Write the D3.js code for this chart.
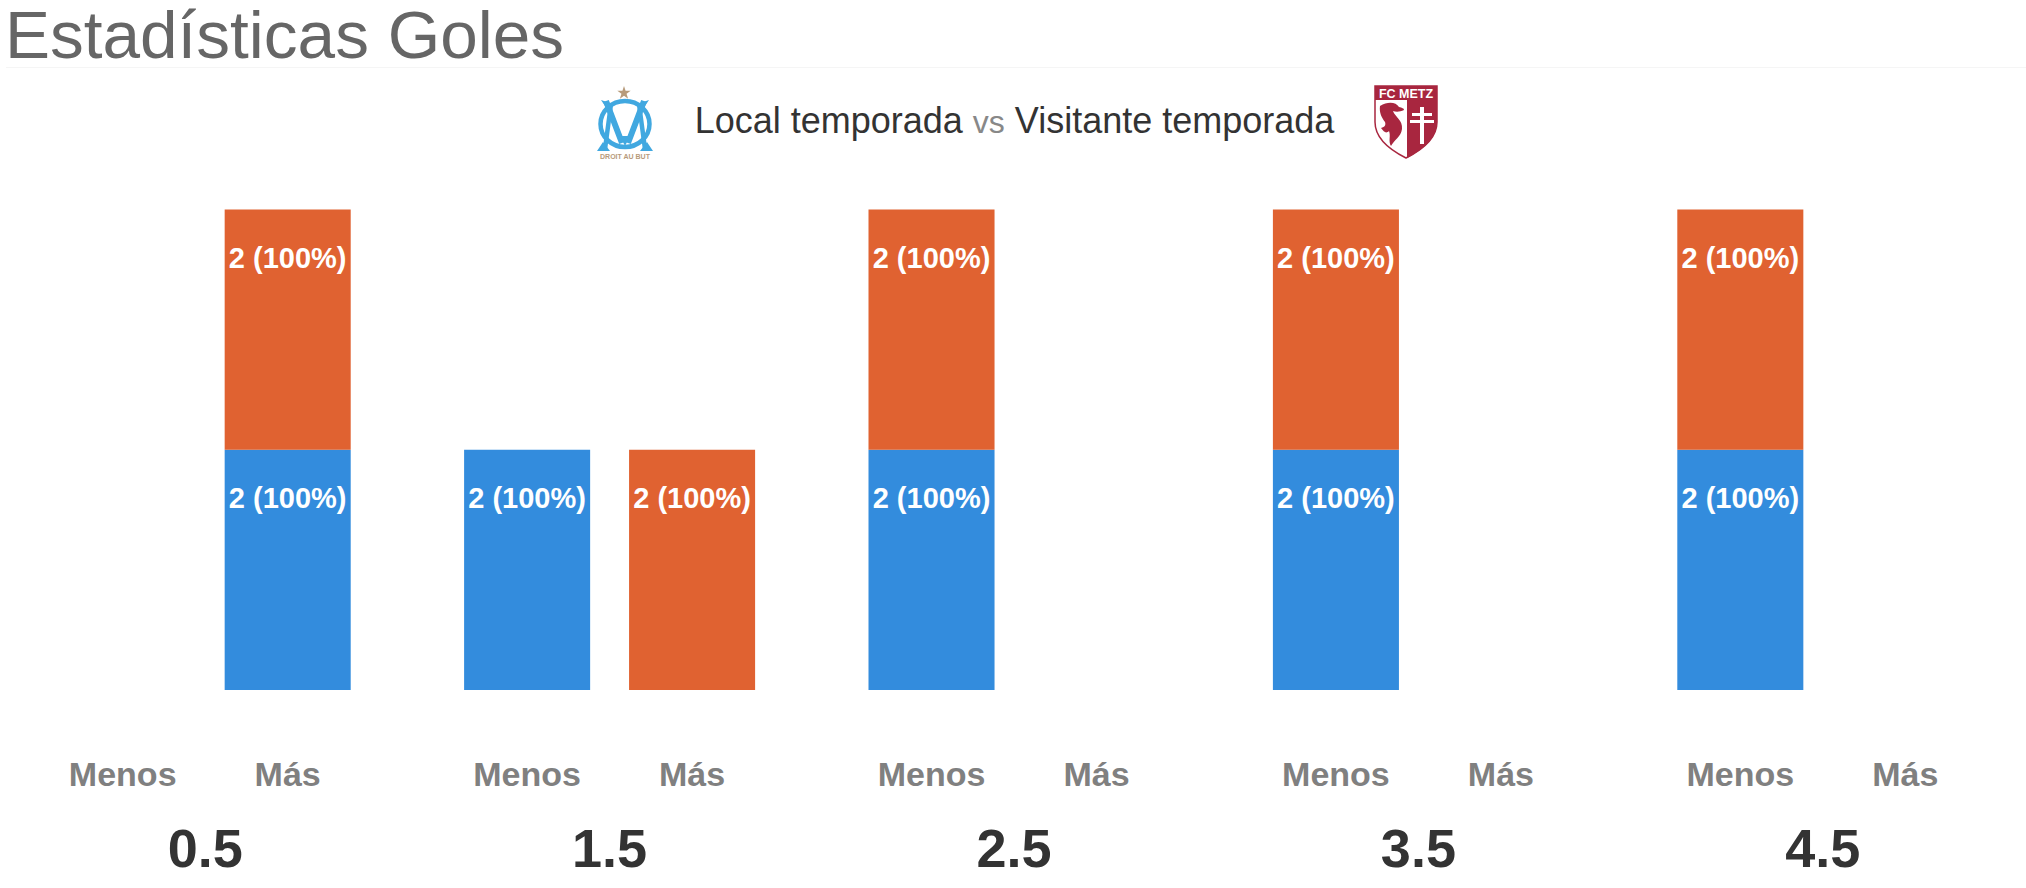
<!DOCTYPE html>
<html>
<head>
<meta charset="utf-8">
<script src="https://cdn.jsdelivr.net/npm/d3@7"></script>
<style>
  html, body { margin: 0; background: #fff; overflow: hidden; }
  text { font-family: "Liberation Sans", Arial, sans-serif; }
</style>
</head>
<body>
<div id="chart"></div>
<script>
const svgWidth = 2026;
const svgHeight = 888;

// Data
const goalLines = ["0.5", "1.5", "2.5", "3.5", "4.5"];
const sides = ["Menos", "Más"];
const localMenos = [0, 2, 2, 2, 2];
const localMas = [2, 0, 0, 0, 0];
const visitanteMenos = [0, 0, 2, 2, 2];
const visitanteMas = [2, 2, 0, 0, 0];
const percentLabel = "100%";
const seriesNames = ["local", "visitante"];

const colors = { local: "#338cdd", visitante: "#e06231" };

const svg = d3.select("#chart")
  .append("svg")
  .attr("width", svgWidth)
  .attr("height", svgHeight);

// Scales
const x0 = d3.scaleBand().domain(goalLines).range([3, 2025]);
const x1 = d3.scaleBand().domain(sides).range([-145.5, 145.5]).paddingInner(0.236);
const y = d3.scaleLinear().domain([0, 4]).range([690, 209.5]);

// Title
svg.append("text")
  .attr("x", 5).attr("y", 58)
  .attr("font-size", 67.5)
  .attr("fill", "#666")
  .text("Estadísticas Goles");

svg.append("line")
  .attr("x1", 6).attr("x2", svgWidth)
  .attr("y1", 67.5).attr("y2", 67.5)
  .attr("stroke", "#f5f5f5");

// Subtitle
const subtitle = svg.append("text")
  .attr("x", 1014.5).attr("y", 133)
  .attr("text-anchor", "middle")
  .attr("font-size", 36)
  .attr("fill", "#333");
subtitle.append("tspan").text("Local temporada ");
subtitle.append("tspan").attr("fill", "#888").attr("font-size", 32).text("vs");
subtitle.append("tspan").text(" Visitante temporada");

// Stacked bars
const rows = goalLines.flatMap((line, i) => [
  { line, side: "Menos", local: localMenos[i], visitante: visitanteMenos[i] },
  { line, side: "Más", local: localMas[i], visitante: visitanteMas[i] }
]);
const stacked = d3.stack().keys(seriesNames)(rows);

const layers = svg.selectAll(".layer")
  .data(stacked)
  .enter()
  .append("g")
  .attr("class", "layer")
  .attr("fill", d => colors[d.key]);

const cells = layers.selectAll("g")
  .data(d => d.filter(s => s[1] > s[0]))
  .enter()
  .append("g")
  .attr("transform", d => `translate(${x0(d.data.line) + x0.bandwidth() / 2 + x1(d.data.side)},0)`);

cells.append("rect")
  .attr("y", d => y(d[1]))
  .attr("width", x1.bandwidth())
  .attr("height", d => y(d[0]) - y(d[1]));

cells.append("text")
  .attr("x", x1.bandwidth() / 2)
  .attr("y", d => y(d[1]) + 58)
  .attr("text-anchor", "middle")
  .attr("font-size", 29)
  .attr("font-weight", "bold")
  .attr("fill", "#fff")
  .text(d => `${d[1] - d[0]} (${percentLabel})`);

// Menos / Más axis for each group
goalLines.forEach(line => {
  const axis = svg.append("g")
    .attr("transform", `translate(${x0(line) + x0.bandwidth() / 2},736)`)
    .call(d3.axisBottom(x1).tickSize(0).tickPadding(26));
  axis.select(".domain").remove();
  axis.selectAll("text")
    .attr("font-size", 34)
    .attr("font-weight", "bold")
    .attr("font-family", null)
    .attr("fill", "#808080");
});

// Goal line axis
const lineAxis = svg.append("g")
  .attr("transform", "translate(0,809)")
  .call(d3.axisBottom(x0).tickSize(0).tickPadding(20));
lineAxis.select(".domain").remove();
lineAxis.selectAll("text")
  .attr("font-size", 54)
  .attr("font-weight", "bold")
  .attr("font-family", null)
  .attr("fill", "#333");

// Home crest
const home = svg.append("g").attr("transform", "translate(625,0)");
const omBlue = "#41a8e0";
home.append("path")
  .attr("d", d3.symbol(d3.symbolStar, 55)())
  .attr("transform", "translate(-1,93)")
  .attr("fill", "#b79b7b");
home.append("ellipse")
  .attr("cx", 0).attr("cy", 124).attr("rx", 24.5).attr("ry", 23)
  .attr("fill", "none").attr("stroke", omBlue).attr("stroke-width", 4.5);
home.append("path")
  .attr("d", "M-19,101L-3,143M19,101L3,143")
  .attr("fill", "none").attr("stroke", omBlue).attr("stroke-width", 6);
home.append("path")
  .attr("d", "M-14,104L-20,149M14,104L20,149")
  .attr("fill", "none").attr("stroke", omBlue).attr("stroke-width", 4.5);
home.append("path")
  .attr("d", "M-28,151L-22,142L-15,151ZM28,151L22,142L15,151ZM-24,100L-15,103L-18,109ZM24,100L15,103L18,109ZM0,146L-5,136H5Z")
  .attr("fill", omBlue);
home.append("text")
  .attr("y", 158.5).attr("text-anchor", "middle")
  .attr("font-size", 7).attr("font-weight", "bold")
  .attr("fill", "#b79b7b")
  .text("DROIT AU BUT");

// Away crest
const away = svg.append("g").attr("transform", "translate(1406,0)");
away.append("path")
  .attr("d", "M-31,86H31V122C31,140 14,151 0,158C-14,151 -31,140 -31,122Z")
  .attr("fill", "#fff").attr("stroke", "#a8263f").attr("stroke-width", 1.5);
away.append("rect")
  .attr("x", -31).attr("y", 86).attr("width", 62).attr("height", 14)
  .attr("fill", "#a8263f");
away.append("text")
  .attr("y", 98).attr("text-anchor", "middle")
  .attr("font-size", 12.5).attr("font-weight", "bold")
  .attr("fill", "#fff")
  .text("FC METZ");
away.append("path")
  .attr("d", "M1,100H31V122C31,140 14,151 1,158Z")
  .attr("fill", "#a8263f");
away.append("path")
  .attr("d", "M-26,106C-18,101 -10,102 -7,107C-4,108 -2,108 -2,110C-6,112 -10,112 -13,111C-11,117 -3,120 -4,129C-5,137 -12,140 -15,146C-18,141 -15,136 -17,131C-20,134 -22,132 -25,128C-21,127 -20,125 -21,122C-24,118 -27,113 -26,106Z")
  .attr("fill", "#a8263f");
away.append("path")
  .attr("d", "M14,107H18V113H26V116H18V120H28V123H18V144H14V123H4V120H14V116H6V113H14Z")
  .attr("fill", "#fff");
</script>
</body>
</html>
